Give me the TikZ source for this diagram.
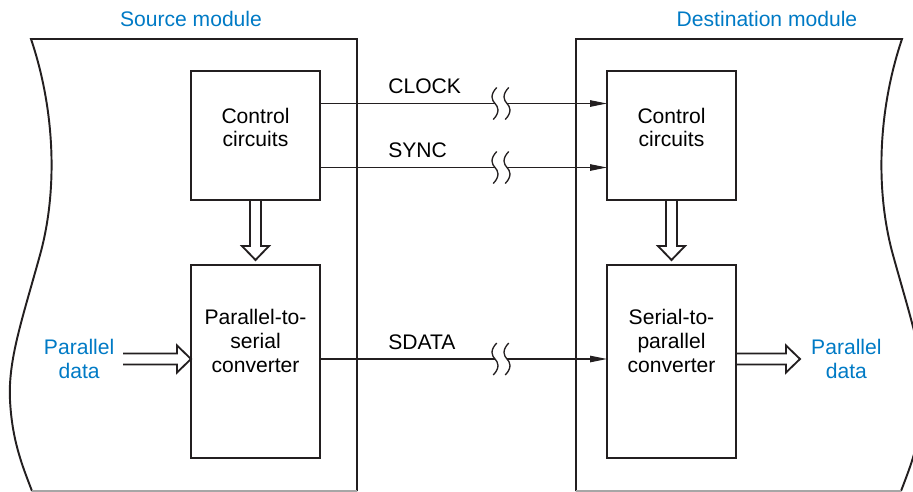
\documentclass[tikz,border=0pt]{standalone}
\usepackage{fontspec}
\setmainfont{Liberation Sans}
\usepackage{tikz}
\usepackage{xcolor}
\usetikzlibrary{positioning, arrows.meta, calc}

\definecolor{titleblue}{RGB}{0,122,197}
\definecolor{inkdark}{RGB}{35,31,32}

% hollow (outlined) block arrow from #1 to the tip #2
\newcommand{\fatarrow}[2]{%
    \coordinate (fa-base) at ($(#2)!0.28cm!(#1)$);
    \draw[fat] ($(#1)!0.11cm!90:(#2)$) -- ($(fa-base)!0.11cm!90:(#2)$)
        -- ($(fa-base)!0.27cm!90:(#2)$) -- (#2)
        -- ($(fa-base)!0.27cm!-90:(#2)$) -- ($(fa-base)!0.11cm!-90:(#2)$)
        -- ($(#1)!0.11cm!-90:(#2)$);
}

\begin{document}
\begin{tikzpicture}[
    % Custom styles for the blocks and labels
    blk/.style={draw=inkdark, line width=1.1pt, minimum width=2.58cm, outer sep=0pt, inner sep=0pt},
    ctrl/.style={blk, minimum height=2.58cm},
    conv/.style={blk, minimum height=3.86cm},
    boxtext/.style={align=center, font=\fontsize{12}{13.5}\selectfont, inner sep=0pt},
    module/.style={draw=inkdark, line width=1.1pt},
    bottomedge/.style={draw=black!35, line width=0.6pt},
    modtitle/.style={text=titleblue, font=\fontsize{12}{13.5}\selectfont},
    pdlabel/.style={text=titleblue, align=center, font=\fontsize{12}{13.5}\selectfont},
    siglabel/.style={font=\fontsize{12}{13.5}\selectfont, inner sep=0pt},
    sig/.style={draw=inkdark, line width=0.6pt},
    tip/.style={-{Triangle[length=0.34cm, width=0.13cm]}},
    fat/.style={draw=inkdark, line width=1.05pt, line join=miter},
    % the wavy break on a long line
    brk/.pic={\draw[sig, line width=0.75pt] (0.035,0.32) .. controls (-0.11,0.17) and (-0.06,0.06) .. (0,0)
        .. controls (0.06,-0.06) and (0.11,-0.17) .. (-0.035,-0.32);}
]
\useasboundingbox (0,0) rectangle (18.26,-9.84);

% ==========================================
% LEFT: SOURCE MODULE
% ==========================================
\draw[module] (0.64,-9.82) .. controls (0.44,-9.30) and (0.24,-8.80) .. (0.20,-8.00)
    .. controls (0.16,-7.20) and (0.44,-6.40) .. (0.80,-5.10)
    .. controls (1.16,-3.80) and (1.10,-2.20) .. (0.62,-0.78)
    -- (7.14,-0.78) -- (7.14,-9.82);
\draw[bottomedge] (0.64,-9.82) -- (7.14,-9.82);
\node[modtitle] (srctitle) at (3.82,-0.38) {Source module};

% 1. The blocks
\node[ctrl] (srcctrl) at (5.11,-2.71) {};
\node[conv, below=1.3cm of srcctrl] (p2s) {};
\node[boxtext] (srcctrl-txt) at ([yshift=0.16cm]srcctrl.center) {Control\\circuits};
\node[boxtext] (p2s-txt) at ([yshift=0.41cm]p2s.center) {Parallel-to-\\serial\\converter};

% 2. Parallel data in
\coordinate (pd-in) at (2.46,-7.18);
\node[pdlabel, left=0.05cm of pd-in] (pd-in-lbl) {Parallel\\data};
\fatarrow{pd-in}{pd-in -| p2s.west}
\fatarrow{srcctrl.south}{[yshift=0.1cm]p2s.north}

% ==========================================
% RIGHT: DESTINATION MODULE
% ==========================================
\draw[module] (11.52,-9.82) -- (11.52,-0.78) -- (18.04,-0.78)
    .. controls (17.56,-2.20) and (17.50,-3.80) .. (17.86,-5.10)
    .. controls (18.22,-6.40) and (18.50,-7.20) .. (18.46,-8.00)
    .. controls (18.42,-8.80) and (18.22,-9.30) .. (18.02,-9.82);
\draw[bottomedge] (11.52,-9.82) -- (18.02,-9.82);
\node[modtitle] (dsttitle) at (15.34,-0.38) {Destination module};

% 1. The blocks
\node[ctrl, right=5.74cm of srcctrl] (dstctrl) {};
\node[conv, below=1.3cm of dstctrl] (s2p) {};
\node[boxtext] (dstctrl-txt) at ([yshift=0.16cm]dstctrl.center) {Control\\circuits};
\node[boxtext] (s2p-txt) at ([yshift=0.41cm]s2p.center) {Serial-to-\\parallel\\converter};

% 2. Parallel data out
\coordinate (pd-out) at (16.0,-7.18);
\node[pdlabel, right=0.1cm of pd-out] (pd-out-lbl) {Parallel\\data};
\fatarrow{s2p.east |- pd-out}{pd-out}
\fatarrow{dstctrl.south}{[yshift=0.1cm]s2p.north}

% ==========================================
% LINES BETWEEN THE MODULES
% ==========================================
\coordinate (brk1) at (9.9,0);
\coordinate (brk2) at (10.14,0);
\coordinate (lblx) at (7.76,0);
\coordinate (clk-a) at ([yshift=0.64cm]srcctrl.east);
\coordinate (sync-a) at ([yshift=-0.64cm]srcctrl.east);
\coordinate (sd-a) at (p2s.east |- pd-in);

\foreach \s/\txt in {clk-a/CLOCK, sync-a/SYNC, sd-a/SDATA} {
    \draw[sig] (\s) -- (\s -| brk1);
    \pic at (\s -| brk1) {brk};
    \pic at (\s -| brk2) {brk};
    \draw[sig, tip] (\s -| brk2) -- (\s -| dstctrl.west);
    \node[siglabel, anchor=base west] at ([yshift=0.2cm]\s -| lblx) {\txt};
}

\end{tikzpicture}
\end{document}
